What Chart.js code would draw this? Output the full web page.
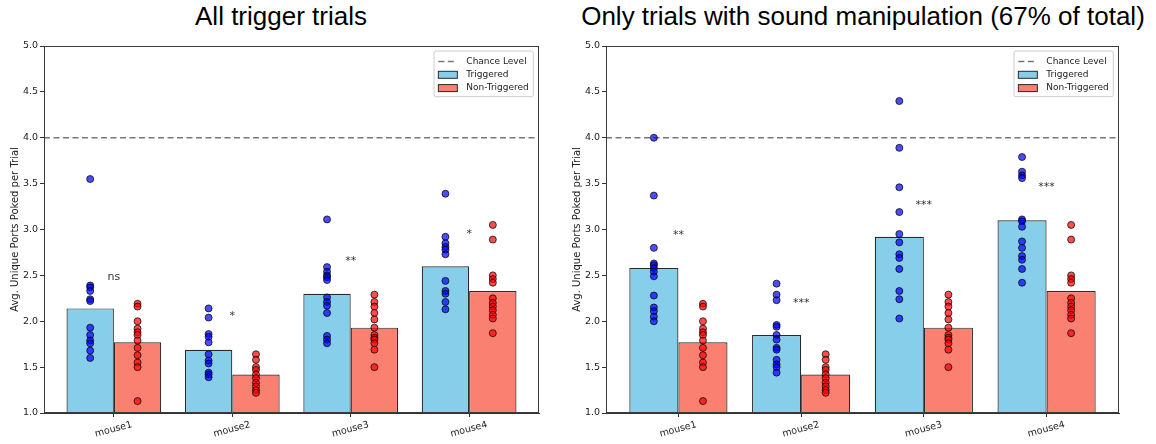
<!DOCTYPE html>
<html>
<head>
<meta charset="utf-8">
<script src="https://cdn.jsdelivr.net/npm/chart.js@4.4.0/dist/chart.umd.min.js"></script>
<style>
  body { margin: 0; background: #fff; width: 1156px; height: 444px; position: relative; overflow: hidden; }
  .title { position: absolute; top: 3px; font-family: 'Liberation Sans', Arial, sans-serif; font-size: 26px; line-height: 26px; color: #000; text-align: center; white-space: nowrap; }
  canvas { position: absolute; top: 0; }
</style>
</head>
<body>
<div class="title" style="left:181px;width:200px">All trigger trials</div>
<div class="title" style="left:563px;width:600px">Only trials with sound manipulation (67% of total)</div>
<canvas id="chartAll" width="560" height="444" style="left:0"></canvas>
<canvas id="chartSound" width="594" height="444" style="left:562px"></canvas>
<script>
var MICE = ["mouse1", "mouse2", "mouse3", "mouse4"];
var CHANCE_LEVEL = 4.0;

// all trigger trials
var allTrigMean = [2.14, 1.69, 2.30, 2.60];
var allNonMean = [1.77, 1.42, 1.93, 2.33];
var allTrigPts = [
    [3.55, 2.39, 2.37, 2.33, 2.24, 2.22, 1.93, 1.85, 1.79, 1.76, 1.68, 1.60],
    [2.14, 2.04, 1.86, 1.83, 1.77, 1.64, 1.57, 1.54, 1.44, 1.42, 1.39],
    [3.11, 2.59, 2.54, 2.50, 2.48, 2.45, 2.26, 2.21, 2.17, 2.09, 1.84, 1.80, 1.76],
    [3.39, 2.92, 2.85, 2.81, 2.78, 2.73, 2.44, 2.33, 2.30, 2.21, 2.13]
];
var allNonPts = [
    [2.19, 2.16, 2.00, 1.92, 1.88, 1.85, 1.79, 1.71, 1.63, 1.55, 1.50, 1.13],
    [1.64, 1.58, 1.50, 1.47, 1.42, 1.38, 1.33, 1.29, 1.25, 1.22],
    [2.29, 2.21, 2.16, 2.09, 2.02, 1.93, 1.85, 1.82, 1.80, 1.76, 1.69, 1.50],
    [3.05, 2.89, 2.50, 2.46, 2.42, 2.25, 2.20, 2.16, 2.12, 2.07, 2.03, 1.87]
];
var allSig = ["ns", "*", "**", "*"];
var allSigY = [2.45, 2.02, 2.62, 2.92];

// only trials with sound manipulation
var sndTrigMean = [2.58, 1.85, 2.92, 3.10];
var sndNonMean = [1.77, 1.42, 1.93, 2.33];
var sndTrigPts = [
    [4.00, 3.37, 2.80, 2.63, 2.61, 2.58, 2.54, 2.49, 2.28, 2.15, 2.11, 2.05, 2.00],
    [2.41, 2.29, 2.23, 1.96, 1.94, 1.85, 1.80, 1.71, 1.69, 1.58, 1.53, 1.50, 1.44],
    [4.40, 3.89, 3.46, 3.19, 2.95, 2.86, 2.73, 2.69, 2.57, 2.33, 2.24, 2.03],
    [3.79, 3.63, 3.59, 3.56, 3.11, 3.09, 3.03, 2.87, 2.80, 2.71, 2.67, 2.57, 2.42]
];
var sndNonPts = [
    [2.19, 2.16, 2.00, 1.92, 1.88, 1.85, 1.79, 1.71, 1.63, 1.55, 1.50, 1.13],
    [1.64, 1.58, 1.50, 1.47, 1.42, 1.38, 1.33, 1.29, 1.25, 1.22],
    [2.29, 2.21, 2.16, 2.09, 2.02, 1.93, 1.85, 1.82, 1.80, 1.76, 1.69, 1.50],
    [3.05, 2.89, 2.50, 2.46, 2.42, 2.25, 2.20, 2.16, 2.12, 2.07, 2.03, 1.87]
];
var sndSig = ["**", "***", "***", "***"];
var sndSigY = [2.91, 2.17, 3.23, 3.43];

var X_MIN = -0.59, X_MAX = 3.59;
var BAR_SHIFT = 0.2;
var TRIG_COLOR = "#87ceeb";
var NON_COLOR = "#fa8072";
var EDGE = "#2a2a2a";

Chart.defaults.font.family = "'DejaVu Sans', sans-serif";
Chart.defaults.color = "#222";

function puntos(pts, shift) {
    var out = [];
    pts.forEach(function (lista, i) {
        lista.forEach(function (v) {
            out.push({ x: i + shift, y: v });
        });
    });
    return out;
}

// significance labels, legend box and the full axes frame
function crearMarco(sig, sigY) {
    return {
        id: "marco",
        afterDatasetsDraw: function (chart) {
            var ctx = chart.ctx, a = chart.chartArea;
            var x = chart.scales.x, y = chart.scales.y;
            ctx.save();

            ctx.fillStyle = "#333";
            ctx.font = "11px 'DejaVu Sans'";
            ctx.textAlign = "center";
            ctx.textBaseline = "alphabetic";
            sig.forEach(function (t, i) {
                ctx.fillText(t, x.getPixelForValue(i), y.getPixelForValue(sigY[i]));
            });

            var items = [
                { text: "Chance Level", line: true },
                { text: "Triggered", color: TRIG_COLOR },
                { text: "Non-Triggered", color: NON_COLOR }
            ];
            ctx.font = "9px 'DejaVu Sans'";
            var textW = 0;
            items.forEach(function (it) {
                textW = Math.max(textW, ctx.measureText(it.text).width);
            });
            var w = 4.3 + 19 + 9 + textW + 4.5;
            var h = 45.7;
            var lx = a.right - 5.7 - w, ly = a.top + 5;
            ctx.beginPath();
            ctx.roundRect(lx, ly, w, h, 2);
            ctx.fillStyle = "rgba(255,255,255,0.8)";
            ctx.fill();
            ctx.strokeStyle = "#cccccc";
            ctx.lineWidth = 1;
            ctx.stroke();
            items.forEach(function (it, k) {
                var cy = ly + 10.5 + k * 13.3;
                if (it.line) {
                    ctx.save();
                    ctx.strokeStyle = "#777";
                    ctx.lineWidth = 1.6;
                    ctx.setLineDash([6, 3.5]);
                    ctx.beginPath();
                    ctx.moveTo(lx + 4.3, cy);
                    ctx.lineTo(lx + 23.3, cy);
                    ctx.stroke();
                    ctx.restore();
                } else {
                    ctx.fillStyle = it.color;
                    ctx.fillRect(lx + 4.3, cy - 3.5, 19, 7);
                    ctx.strokeStyle = EDGE;
                    ctx.lineWidth = 1;
                    ctx.strokeRect(lx + 4.3, cy - 3.5, 19, 7);
                }
                ctx.fillStyle = "#222";
                ctx.textAlign = "left";
                ctx.textBaseline = "middle";
                ctx.fillText(it.text, lx + 32.3, cy);
            });

            ctx.strokeStyle = "#3a3a3a";
            ctx.lineWidth = 1;
            ctx.strokeRect(a.left + 0.5, a.top + 0.5, a.right - a.left - 1, a.bottom - a.top - 1);
            ctx.restore();
        }
    };
}

function crearGrafico(canvasId, trigMean, nonMean, trigPts, nonPts, sig, sigY, padRight) {
    return new Chart(document.getElementById(canvasId), {
        type: "bar",
        data: {
            datasets: [
                {
                    type: "scatter",
                    label: "Triggered trials",
                    data: puntos(trigPts, -BAR_SHIFT),
                    backgroundColor: "rgba(0,0,255,0.7)",
                    borderColor: "rgba(0,0,0,0.8)",
                    borderWidth: 0.9,
                    pointRadius: 3.5,
                    order: 1
                },
                {
                    type: "scatter",
                    label: "Non-Triggered trials",
                    data: puntos(nonPts, BAR_SHIFT),
                    backgroundColor: "rgba(255,0,0,0.7)",
                    borderColor: "rgba(0,0,0,0.8)",
                    borderWidth: 0.9,
                    pointRadius: 3.5,
                    order: 1
                },
                {
                    type: "line",
                    label: "Chance Level",
                    data: [{ x: X_MIN, y: CHANCE_LEVEL }, { x: X_MAX, y: CHANCE_LEVEL }],
                    borderColor: "#777",
                    borderWidth: 1.6,
                    borderDash: [6, 3.5],
                    pointRadius: 0,
                    order: 2
                },
                {
                    type: "bar",
                    label: "Triggered",
                    data: trigMean.map(function (v, i) { return { x: i, y: v }; }),
                    backgroundColor: TRIG_COLOR,
                    borderColor: EDGE,
                    borderWidth: 1.2,
                    categoryPercentage: 0.8,
                    barPercentage: 1.0,
                    order: 3
                },
                {
                    type: "bar",
                    label: "Non-Triggered",
                    data: nonMean.map(function (v, i) { return { x: i, y: v }; }),
                    backgroundColor: NON_COLOR,
                    borderColor: EDGE,
                    borderWidth: 1.2,
                    categoryPercentage: 0.8,
                    barPercentage: 1.0,
                    order: 3
                }
            ]
        },
        options: {
            responsive: false,
            animation: false,
            devicePixelRatio: 1,
            layout: { padding: { top: 46, right: padRight, left: 0, bottom: 0 } },
            plugins: {
                legend: { display: false },
                tooltip: { enabled: false }
            },
            scales: {
                x: {
                    type: "linear",
                    min: X_MIN,
                    max: X_MAX,
                    offset: false,
                    afterBuildTicks: function (scale) {
                        scale.ticks = MICE.map(function (m, i) { return { value: i }; });
                    },
                    afterFit: function (scale) { scale.height = 31; },
                    ticks: {
                        callback: function (value) { return MICE[value]; },
                        minRotation: 15,
                        maxRotation: 15,
                        labelOffset: 18,
                        padding: 2,
                        font: { size: 9.5 }
                    },
                    grid: { offset: false, drawOnChartArea: false, tickLength: 4, color: "#333" },
                    border: { display: true, color: "#333", width: 1 }
                },
                y: {
                    min: 1,
                    max: 5,
                    afterFit: function (scale) { scale.width = 44; },
                    ticks: {
                        stepSize: 0.5,
                        padding: 2,
                        font: { size: 9.5 },
                        callback: function (value) { return value.toFixed(1); }
                    },
                    grid: { drawOnChartArea: false, tickLength: 4, color: "#333" },
                    border: { display: true, color: "#333", width: 1 },
                    title: {
                        display: true,
                        text: "Avg. Unique Ports Poked per Trial",
                        font: { size: 10 },
                        color: "#222",
                        padding: { top: 9, bottom: 0 }
                    }
                }
            }
        },
        plugins: [crearMarco(sig, sigY)]
    });
}

crearGrafico("chartAll", allTrigMean, allNonMean, allTrigPts, allNonPts, allSig, allSigY, 21);
crearGrafico("chartSound", sndTrigMean, sndNonMean, sndTrigPts, sndNonPts, sndSig, sndSigY, 37);
</script>
</body>
</html>
